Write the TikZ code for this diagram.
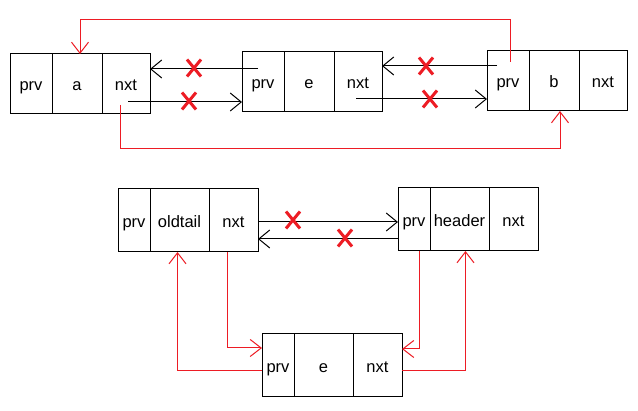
\documentclass[tikz,border=0pt]{standalone}
\usepackage{fontspec}
\setmainfont{Liberation Sans}
\usetikzlibrary{arrows.meta,calc}
\definecolor{pred}{RGB}{237,28,36}
\begin{document}
\begin{tikzpicture}[x=1pt,y=-1pt,
  cell/.style={draw,line width=1pt,inner sep=0pt,outer sep=0pt,anchor=north west,minimum height=60pt,text height=14pt,text depth=0pt,font=\fontsize{16.5}{18}\selectfont},
  cellb/.style={cell,minimum height=63pt},
  blk/.style={line width=1pt,-{Straight Barb[length=11pt,width=18pt,line width=1pt]}},
  rln/.style={pred,line width=1pt,-{Straight Barb[length=11pt,width=17pt,line width=1pt]}},
  xline/.style={pred,line width=3pt},
  xmark/.pic={\draw[xline] (-7,-8.5) -- (7,8.5) (-7,8.5) -- (7,-8.5);}
]
\useasboundingbox (0,0) rectangle (638,411);
\fill[white] (0,0) rectangle (638,411);

% top row
\node[cell,minimum width=42pt] (a-prv) at (10,54) {prv};
\node[cell,minimum width=50pt] (a-val) at (52,54) {a};
\node[cell,minimum width=48pt] (a-nxt) at (102,54) {nxt};

\node[cell,minimum width=42pt] (e-prv) at (242,52) {prv};
\node[cell,minimum width=50pt] (e-val) at (284,52) {e};
\node[cell,minimum width=48pt] (e-nxt) at (334,52) {nxt};

\node[cell,minimum width=42pt] (b-prv) at (487,51) {prv};
\node[cell,minimum width=50pt] (b-val) at (529,51) {b};
\node[cell,minimum width=48pt] (b-nxt) at (579,51) {nxt};

% bottom rows
\node[cellb,minimum width=32pt] (o-prv) at (118,189) {prv};
\node[cellb,minimum width=59pt] (o-val) at (150,189) {oldtail};
\node[cellb,minimum width=49pt] (o-nxt) at (209,189) {nxt};

\node[cellb,minimum width=32pt] (h-prv) at (398,188) {prv};
\node[cellb,minimum width=59pt] (h-val) at (430,188) {header};
\node[cellb,minimum width=49pt] (h-nxt) at (489,188) {nxt};

\node[cellb,minimum width=32pt] (f-prv) at (262,334) {prv};
\node[cellb,minimum width=59pt] (f-val) at (294,334) {e};
\node[cellb,minimum width=49pt] (f-nxt) at (353,334) {nxt};

% top black links
\coordinate (p1) at (258,69);
\coordinate (p2) at (128,102);
\coordinate (p3) at (497,66);
\coordinate (p4) at (356,99);
\draw[blk] (p1) -- (p1 -| a-nxt.east);
\draw[blk] (p2) -- (p2 -| e-prv.west);
\draw[blk] (p3) -- (p3 -| e-nxt.east);
\draw[blk] (p4) -- (p4 -| b-prv.west);

% top red links
\coordinate (r1) at (510,62);
\coordinate (r1top) at (510,20);
\draw[rln] (r1) -- (r1top) -| ([xshift=3pt]a-val.north);
\coordinate (r2) at (120,105);
\draw[rln] (r2) -- ++(0,44) -| ([xshift=6pt]b-val.south);

% bottom black links
\draw[blk] ([yshift=-1.5pt]o-nxt.east) -- ([yshift=-1.5pt]o-nxt.east -| h-prv.west);
\draw[blk] ([yshift=-19.5pt]h-prv.west) -- ([yshift=-19.5pt]h-prv.west -| o-nxt.east);

% bottom red links
\draw[rln] ([yshift=-5.5pt]f-prv.west) -| ([xshift=-2pt]o-val.south);
\draw[rln] ([xshift=-6.5pt]o-nxt.south) |- ([yshift=17.5pt]f-prv.west);
\draw[rln] ([xshift=5pt]h-prv.south) |- ([yshift=16.5pt]f-nxt.east);
\draw[rln] ([yshift=-5.5pt]f-nxt.east) -| ([xshift=6pt]h-val.south);

% crosses
\pic at (194,68) {xmark};
\pic at (189,101) {xmark};
\pic at (426,66) {xmark};
\pic at (430,99) {xmark};
\pic at (293,220) {xmark};
\pic at (345,238) {xmark};
\end{tikzpicture}
\end{document}
